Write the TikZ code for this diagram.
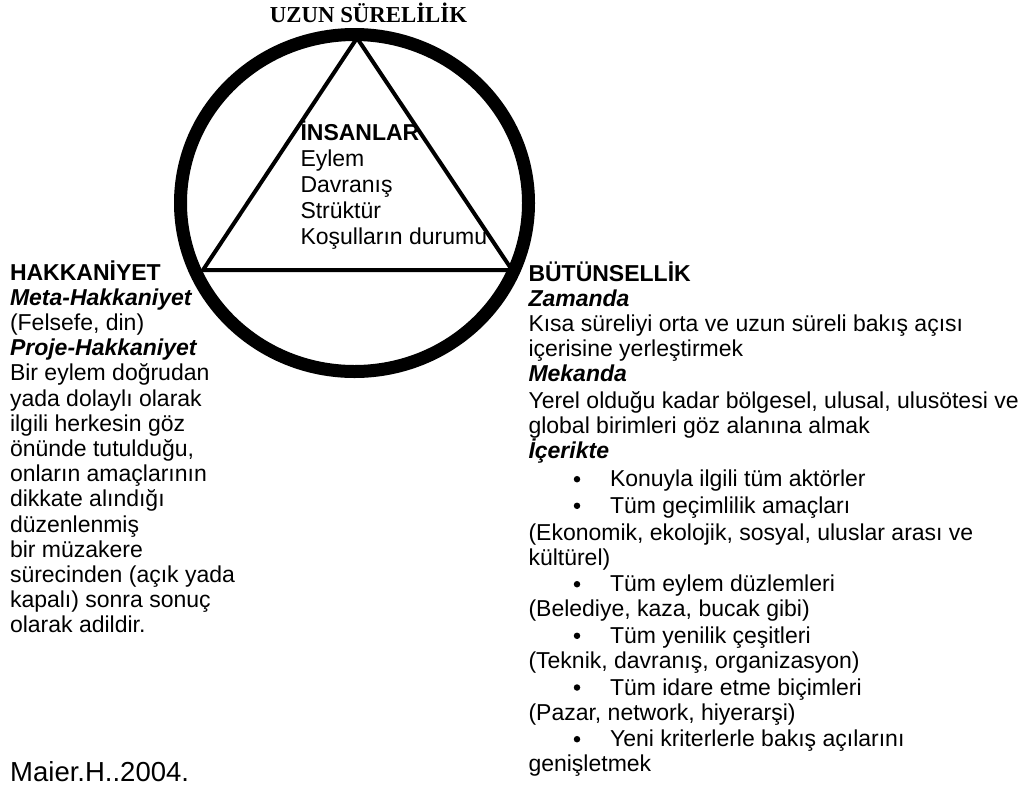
\documentclass[tikz,border=0pt]{standalone}
\usepackage{fontspec}
\setmainfont{Liberation Sans}
\newfontfamily\headserif{Liberation Serif}
\begin{document}
\begin{tikzpicture}[x=1pt,y=-1pt,
  txt/.style={anchor=base west,inner sep=0pt,outer sep=0pt,font=\fontsize{23}{26}\selectfont},
  hd/.style={txt,font=\fontsize{23}{26}\selectfont\bfseries},
  sub/.style={txt,font=\fontsize{23}{26}\selectfont\bfseries\itshape},
  dot/.style={circle,fill=black,inner sep=0pt,minimum size=6.5pt}]
\useasboundingbox (0,0) rectangle (1032,785);

% outer ring
\draw[line width=13pt] (354.5,203) ellipse [x radius=174, y radius=168.5];

% inscribed triangle
\coordinate (apex) at (357,38);
\coordinate (bl) at (203,270);
\coordinate (br) at (512,270);
\draw[line width=4pt] (apex) -- (bl) -- (br) -- cycle;

% top label
\node[anchor=base,inner sep=0pt,font=\headserif\fontsize{22.8}{26}\selectfont\bfseries] (top) at (368.5,22) {UZUN SÜRELİLİK};

% inside the triangle
\node[hd]  (t0) at (300.5,140) {İNSANLAR};
\node[txt] (t1) at (300.5,166) {Eylem};
\node[txt] (t2) at (300.5,192) {Davranış};
\node[txt] (t3) at (300.5,218) {Strüktür};
\node[txt] (t4) at (300.5,244) {Koşulların durumu};

% left column
\node[hd]  (l0)  at (10,280)   {HAKKANİYET};
\node[sub] (l1)  at (10,305.2) {Meta-Hakkaniyet};
\node[txt] (l2)  at (10,330.4) {(Felsefe, din)};
\node[sub] (l3)  at (10,355.6) {Proje-Hakkaniyet};
\node[txt] (l4)  at (10,380.8) {Bir eylem doğrudan};
\node[txt] (l5)  at (10,406)   {yada dolaylı olarak};
\node[txt] (l6)  at (10,431.2) {ilgili herkesin göz};
\node[txt] (l7)  at (10,456.4) {önünde tutulduğu,};
\node[txt] (l8)  at (10,481.6) {onların amaçlarının};
\node[txt] (l9)  at (10,506.8) {dikkate alındığı};
\node[txt] (l10) at (10,532)   {düzenlenmiş};
\node[txt] (l11) at (10,557.2) {bir müzakere};
\node[txt] (l12) at (10,582.4) {sürecinden (açık yada};
\node[txt] (l13) at (10,607.6) {kapalı) sonra sonuç};
\node[txt] (l14) at (10,632.8) {olarak adildir.};

% right column
\node[hd]  (r0)  at (528.5,281)   {BÜTÜNSELLİK};
\node[sub] (r1)  at (528.5,306)   {Zamanda};
\node[txt] (r2)  at (528.5,331.7) {Kısa süreliyi orta ve uzun süreli bakış açısı};
\node[txt] (r3)  at (528.5,356.7) {içerisine yerleştirmek};
\node[sub] (r4)  at (528.5,381.7) {Mekanda};
\node[txt] (r5)  at (528.5,408.3) {Yerel olduğu kadar bölgesel, ulusal, ulusötesi ve};
\node[txt] (r6)  at (528.5,433.3) {global birimleri göz alanına almak};
\node[sub] (r7)  at (528.5,458.3) {İçerikte};
\node[txt] (r8)  at (610,486.7)   {Konuyla ilgili tüm aktörler};
\node[txt] (r9)  at (610,513.3)   {Tüm geçimlilik amaçları};
\node[txt] (r10) at (528.5,540)   {(Ekonomik, ekolojik, sosyal, uluslar arası ve};
\node[txt] (r11) at (528.5,565)   {kültürel)};
\node[txt] (r12) at (610,591.7)   {Tüm eylem düzlemleri};
\node[txt] (r13) at (528.5,616.7) {(Belediye, kaza, bucak gibi)};
\node[txt] (r14) at (610,643.3)   {Tüm yenilik çeşitleri};
\node[txt] (r15) at (528.5,668.3) {(Teknik, davranış, organizasyon)};
\node[txt] (r16) at (610,695)     {Tüm idare etme biçimleri};
\node[txt] (r17) at (528.5,720)   {(Pazar, network, hiyerarşi)};
\node[txt] (r18) at (610,746.7)   {Yeni kriterlerle bakış açılarını};
\node[txt] (r19) at (528.5,771.7) {genişletmek};

% list bullets
\node[dot] (b1) at (577,479.2) {};
\node[dot] (b2) at (577,505.8) {};
\node[dot] (b3) at (577,584.2) {};
\node[dot] (b4) at (577,635.8) {};
\node[dot] (b5) at (577,687.5) {};
\node[dot] (b6) at (577,739.2) {};

% source
\node[anchor=base west,inner sep=0pt,font=\fontsize{27.5}{30}\selectfont] (src) at (10,781) {Maier.H..2004.};
\end{tikzpicture}
\end{document}
